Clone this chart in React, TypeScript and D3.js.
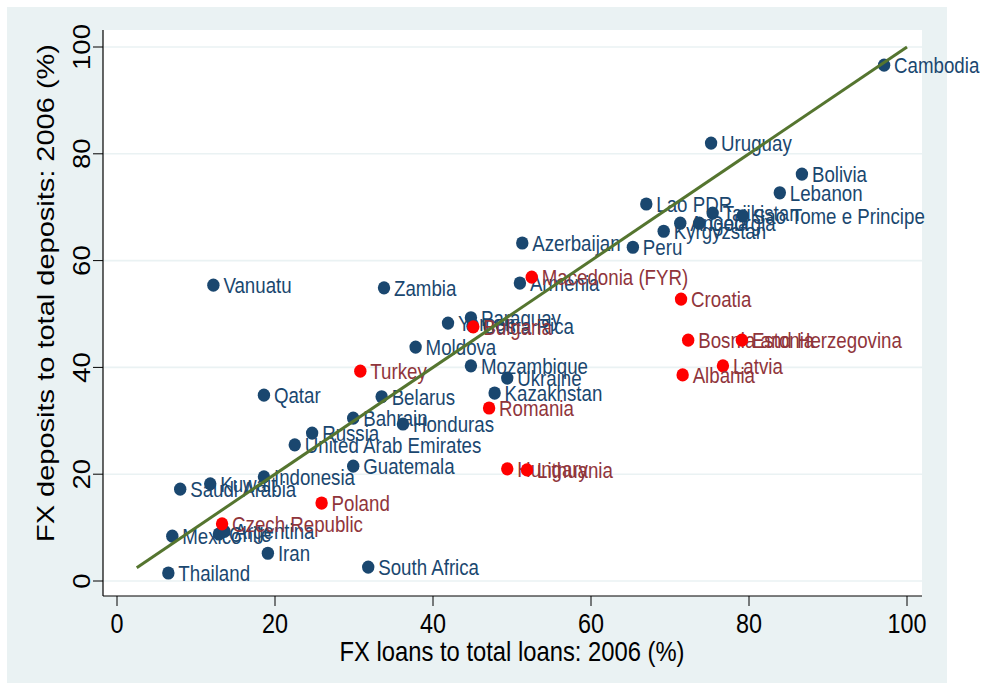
import React from 'react';
import * as d3 from 'd3';

// Non-crisis economies (navy markers)
const blueNames = [
  'Cambodia', 'Uruguay', 'Bolivia', 'Lebanon', 'Lao PDR', 'Tajikistan', 'Sao Tome e Principe',
  'Angola', 'Georgia', 'Kyrgyzstan', 'Peru', 'Azerbaijan', 'Armenia', 'Vanuatu', 'Zambia',
  'Yemen', 'Paraguay', 'Costa Rica', 'Moldova', 'Mozambique', 'Ukraine', 'Kazakhstan', 'Qatar',
  'Belarus', 'Bahrain', 'Honduras', 'Russia', 'United Arab Emirates', 'Guatemala', 'Indonesia',
  'Kuwait', 'Saudi Arabia', 'Chile', 'Argentina', 'Mexico', 'Iran', 'Thailand', 'South Africa',
];
const blueLoans = [
  97.1, 75.2, 86.7, 83.9, 67.0, 75.4, 79.2,
  71.3, 73.7, 69.2, 65.3, 51.3, 51.0, 12.2, 33.8,
  41.9, 44.8, 45.0, 37.8, 44.8, 49.4, 47.8, 18.6,
  33.5, 29.9, 36.2, 24.7, 22.5, 29.9, 18.6,
  11.8, 8.0, 12.9, 13.6, 7.0, 19.1, 6.5, 31.8,
];
const blueDeposits = [
  96.6, 82.0, 76.2, 72.7, 70.6, 68.9, 68.4,
  67.0, 67.0, 65.5, 62.5, 63.3, 55.8, 55.4, 54.9,
  48.3, 49.3, 47.7, 43.8, 40.3, 38.0, 35.2, 34.8,
  34.5, 30.5, 29.4, 27.7, 25.5, 21.5, 19.5,
  18.2, 17.2, 8.8, 9.3, 8.4, 5.2, 1.5, 2.6,
];

// Emerging Europe and Turkey (red markers)
const redNames = [
  'Macedonia (FYR)', 'Croatia', 'Bulgaria', 'Bosnia and Herzegovina', 'Estonia', 'Latvia',
  'Albania', 'Turkey', 'Romania', 'Hungary', 'Lithuania', 'Poland', 'Czech Republic',
];
const redLoans = [52.5, 71.4, 45.1, 72.3, 79.1, 76.7, 71.6, 30.8, 47.1, 49.4, 51.9, 25.9, 13.3];
const redDeposits = [56.9, 52.8, 47.6, 45.1, 45.1, 40.3, 38.6, 39.3, 32.4, 21.0, 20.8, 14.6, 10.7];

// 45-degree reference line
const fitLoans = [2.5, 100];
const fitDeposits = [2.5, 100];

const xTicks = [0, 20, 40, 60, 80, 100];
const yTicks = [0, 20, 40, 60, 80, 100];
const xTitle = 'FX loans to total loans: 2006 (%)';
const yTitle = 'FX deposits to total deposits: 2006 (%)';

const NAVY = '#1A476F';
const RED = '#FF0000';
const MAROON = '#90353B';
const GREEN = '#55752F';
const BG = '#EAF2F3';
const FONT = "'Liberation Sans', Arial, Helvetica, sans-serif";
const SX = 0.85;

export default function App() {
  const W = 984;
  const H = 683;
  const plot = { left: 103, right: 922, top: 30, bottom: 596 };
  const x = d3.scaleLinear().domain([0, 100]).range([117, 907]);
  const y = d3.scaleLinear().domain([0, 100]).range([581, 47]);

  const fitPath = d3
    .line<number>()
    .x((d) => x(d))
    .y((_, i) => y(fitDeposits[i]))(fitLoans) as string;

  const renderSeries = (
    names: string[],
    xs: number[],
    ys: number[],
    mColor: string,
    lColor: string,
  ) =>
    names.map((n, i) => {
      const px = x(xs[i]);
      const py = y(ys[i]);
      return (
        <g key={n}>
          <ellipse cx={px} cy={py} rx={6.2} ry={6.6} fill={mColor} />
          <text
            transform={`translate(${px + 10},${py + 7.9}) scale(${SX},1)`}
            fontSize={22}
            fill={lColor}
            fontFamily={FONT}
          >
            {n}
          </text>
        </g>
      );
    });

  return (
    <svg
      width={W}
      height={H}
      style={{ position: 'absolute', left: 0, top: 0, background: '#fff' }}
    >
      <rect x={7} y={7} width={940} height={676} fill={BG} />
      <rect
        x={plot.left}
        y={plot.top}
        width={plot.right - plot.left}
        height={plot.bottom - plot.top}
        fill="#fff"
      />
      {yTicks.map((t) => (
        <line
          key={'g' + t}
          x1={plot.left}
          x2={plot.right}
          y1={y(t)}
          y2={y(t)}
          stroke={BG}
          strokeWidth={1.6}
        />
      ))}

      {renderSeries(blueNames, blueLoans, blueDeposits, NAVY, NAVY)}
      {renderSeries(redNames, redLoans, redDeposits, RED, MAROON)}

      <path d={fitPath} stroke={GREEN} strokeWidth={3} fill="none" />

      {/* axes */}
      <line x1={plot.left} x2={plot.left} y1={plot.top} y2={plot.bottom} stroke="#000" strokeWidth={1.2} />
      <line x1={plot.left} x2={plot.right} y1={plot.bottom} y2={plot.bottom} stroke="#000" strokeWidth={1.2} />
      {xTicks.map((t) => (
        <g key={'xt' + t}>
          <line x1={x(t)} x2={x(t)} y1={plot.bottom} y2={plot.bottom + 10} stroke="#000" strokeWidth={1} />
          <text
            transform={`translate(${x(t)},633) scale(${SX},1)`}
            textAnchor="middle"
            fontSize={27.5}
            fontFamily={FONT}
            fill="#000"
          >
            {t}
          </text>
        </g>
      ))}
      {yTicks.map((t) => (
        <g key={'yt' + t}>
          <line x1={plot.left - 10} x2={plot.left} y1={y(t)} y2={y(t)} stroke="#000" strokeWidth={1} />
          <text
            transform={`translate(90,${y(t)}) scale(${SX},1) rotate(-90)`}
            textAnchor="middle"
            fontSize={27.5}
            fontFamily={FONT}
            fill="#000"
          >
            {t}
          </text>
        </g>
      ))}
      <text
        transform={`translate(512,661) scale(${SX},1)`}
        textAnchor="middle"
        fontSize={28}
        fontFamily={FONT}
        fill="#000"
      >
        {xTitle}
      </text>
      <text
        transform={`translate(54,293) scale(${SX},1) rotate(-90)`}
        textAnchor="middle"
        fontSize={29}
        fontFamily={FONT}
        fill="#000"
      >
        {yTitle}
      </text>
    </svg>
  );
}
